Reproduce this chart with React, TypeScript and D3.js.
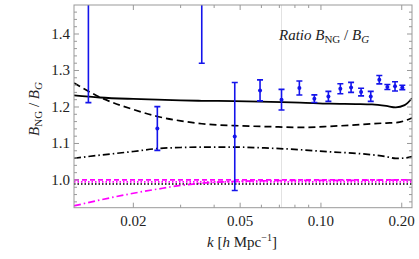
import * as React from "react";
import * as d3 from "d3";

// measured points (k, ratio, error)
const kObs = [0.0136, 0.02457, 0.03597, 0.04774, 0.0593, 0.0713, 0.0831, 0.0945, 0.1066, 0.1181, 0.1295, 0.1411, 0.1533, 0.165, 0.1768, 0.1888, 0.201];
const ratioObs = [1.6, 1.141, 1.62, 1.119, 1.2455, 1.22, 1.252, 1.2227, 1.229, 1.25, 1.2537, 1.241, 1.229, 1.2748, 1.2548, 1.2565, 1.2537];
const errObs = [0.388, 0.06, 0.3, 0.148, 0.0288, 0.0284, 0.0192, 0.0105, 0.0137, 0.0137, 0.0137, 0.0105, 0.0137, 0.0114, 0.0068, 0.0128, 0.006];

// model curves
const kCurve = [0.01202, 0.015, 0.02, 0.0246, 0.03, 0.036, 0.0475, 0.065, 0.0835, 0.108, 0.135, 0.155, 0.175, 0.19, 0.205, 0.2184];
const solidVals = [1.232, 1.226, 1.222, 1.22, 1.218, 1.217, 1.216, 1.214, 1.212, 1.209, 1.208, 1.207, 1.203, 1.199, 1.205, 1.224];
const dashedVals = [1.266, 1.227, 1.193, 1.174, 1.162, 1.154, 1.149, 1.146, 1.144, 1.147, 1.151, 1.154, 1.156, 1.157, 1.162, 1.17];
const dashDotVals = [1.0595, 1.068, 1.078, 1.086, 1.089, 1.09, 1.09, 1.087, 1.083, 1.077, 1.073, 1.069, 1.064, 1.059, 1.06, 1.064];
const dottedVals = [0.989, 0.989, 0.989, 0.989, 0.989, 0.989, 0.989, 0.989, 0.989, 0.989, 0.989, 0.989, 0.989, 0.989, 0.989, 0.989];
const magDashVals = [1.0, 1.0, 1.0, 1.0, 1.0, 1.0, 1.0, 1.0, 1.0, 1.0, 1.0, 1.0, 1.0, 1.0, 1.0, 1.0];
const magDotVals = [0.995, 0.995, 0.995, 0.995, 0.995, 0.995, 0.995, 0.995, 0.995, 0.995, 0.995, 0.995, 0.995, 0.995, 0.995, 0.995];
const magDashDotVals = [0.929, 0.945, 0.9636, 0.975, 0.985, 0.991, 0.996, 0.998, 0.999, 0.999, 0.999, 0.9995, 0.9995, 1.0, 1.0, 1.0];

const xMajor = [0.02, 0.05, 0.1, 0.2];
const xMajorLabels = ["0.02", "0.05", "0.10", "0.20"];
const xMinor = [0.03, 0.04, 0.06, 0.07, 0.08, 0.09];
const yMajor = [1.0, 1.1, 1.2, 1.3, 1.4];
const yMajorLabels = ["1.0", "1.1", "1.2", "1.3", "1.4"];
const yMinor = [0.94, 0.96, 0.98, 1.02, 1.04, 1.06, 1.08, 1.12, 1.14, 1.16, 1.18, 1.22, 1.24, 1.26, 1.28, 1.32, 1.34, 1.36, 1.38, 1.42, 1.44, 1.46];

const W = 419;
const H = 259;
const L = 74, R = 412, T = 5, B = 207.7;
const font = "'Liberation Serif', 'Times New Roman', serif";
const blue = "rgb(20,20,235)";
const frameCol = "#999";
const textCol = "#222";

export default function App() {
  const x = d3.scaleLog().domain([0.01202, 0.2184]).range([L, R]);
  const y = d3.scaleLinear().domain([0.924, 1.4795]).range([B, T]);

  const line = d3
    .line<number>()
    .x((_, i) => x(kCurve[i]))
    .y((d) => y(d))
    .curve(d3.curveMonotoneX);

  const curves = [
    { vals: solidVals, color: "#000", dash: "none", w: 1.8 },
    { vals: dashedVals, color: "#000", dash: "7,4", w: 1.7 },
    { vals: dashDotVals, color: "#000", dash: "7,3,1.5,3", w: 1.7 },
    { vals: dottedVals, color: "#000", dash: "1.5,2", w: 1.6 },
    { vals: magDotVals, color: "#ff00ff", dash: "1.5,2", w: 1.7 },
    { vals: magDashVals, color: "#ff00ff", dash: "5,3", w: 1.7 },
    { vals: magDashDotVals, color: "#ff00ff", dash: "7,3,1.5,3", w: 1.7 },
  ];

  return (
    <svg width={W} height={H} style={{ position: "absolute", left: 0, top: 0, background: "#fff" }}>
      <defs>
        <clipPath id="plotClip">
          <rect x={L} y={T} width={R - L} height={B - T} />
        </clipPath>
      </defs>

      {/* faint vertical grid line */}
      <line x1={x(0.0713)} x2={x(0.0713)} y1={T} y2={B} stroke="#e2e2e2" strokeWidth={1} />

      <g clipPath="url(#plotClip)">
        {curves.map((c, i) => (
          <path key={"c" + i} d={line(c.vals) || ""} fill="none" stroke={c.color} strokeWidth={c.w} strokeDasharray={c.dash} />
        ))}
        {kObs.map((k, i) => {
          const cx = x(k);
          const y0 = y(ratioObs[i] - errObs[i]);
          const y1 = y(ratioObs[i] + errObs[i]);
          return (
            <g key={"p" + i} stroke={blue} strokeWidth={1.6}>
              <line x1={cx} x2={cx} y1={y0} y2={y1} />
              <line x1={cx - 3} x2={cx + 3} y1={y0} y2={y0} />
              <line x1={cx - 3} x2={cx + 3} y1={y1} y2={y1} />
              <circle cx={cx} cy={y(ratioObs[i])} r={2} fill={blue} stroke="none" />
            </g>
          );
        })}
      </g>

      {/* frame */}
      <rect x={L} y={T} width={R - L} height={B - T} fill="none" stroke={frameCol} strokeWidth={1} />

      {/* x ticks, bottom and top */}
      {xMajor.map((k, i) => (
        <g key={"xm" + i}>
          <line x1={x(k)} x2={x(k)} y1={B} y2={B - 5} stroke={frameCol} />
          <line x1={x(k)} x2={x(k)} y1={T} y2={T + 5} stroke={frameCol} />
          <text x={x(k)} y={225.5} textAnchor="middle" fontFamily={font} fontSize={15} fill={textCol}>
            {xMajorLabels[i]}
          </text>
        </g>
      ))}
      {xMinor.map((k, i) => (
        <g key={"xn" + i}>
          <line x1={x(k)} x2={x(k)} y1={B} y2={B - 3} stroke={frameCol} />
          <line x1={x(k)} x2={x(k)} y1={T} y2={T + 3} stroke={frameCol} />
        </g>
      ))}

      {/* y ticks, left and right */}
      {yMajor.map((v, i) => (
        <g key={"ym" + i}>
          <line x1={L} x2={L + 5} y1={y(v)} y2={y(v)} stroke={frameCol} />
          <line x1={R} x2={R - 5} y1={y(v)} y2={y(v)} stroke={frameCol} />
          <text x={70} y={y(v) + 5} textAnchor="end" fontFamily={font} fontSize={15} fill={textCol}>
            {yMajorLabels[i]}
          </text>
        </g>
      ))}
      {yMinor.map((v, i) => (
        <g key={"yn" + i}>
          <line x1={L} x2={L + 3} y1={y(v)} y2={y(v)} stroke={frameCol} />
          <line x1={R} x2={R - 3} y1={y(v)} y2={y(v)} stroke={frameCol} />
        </g>
      ))}

      {/* in-plot title */}
      <text x={279} y={39.5} fontFamily={font} fontSize={15} fill={textCol}>
        <tspan fontStyle="italic">Ratio B</tspan>
        <tspan fontSize={11} dy={3}>NG</tspan>
        <tspan dy={-3}> / </tspan>
        <tspan fontStyle="italic">B</tspan>
        <tspan fontStyle="italic" fontSize={11} dy={3}>G</tspan>
      </text>

      {/* axis labels */}
      <text x={242} y={247} textAnchor="middle" fontFamily={font} fontSize={15} fill={textCol}>
        <tspan fontStyle="italic">k</tspan>
        <tspan> [</tspan>
        <tspan fontStyle="italic">h</tspan>
        <tspan> Mpc</tspan>
        <tspan fontSize={10} dy={-6}>−1</tspan>
        <tspan dy={6}>]</tspan>
      </text>
      <text transform="translate(39,109) rotate(-90)" textAnchor="middle" fontFamily={font} fontSize={15} fill={textCol}>
        <tspan fontStyle="italic">B</tspan>
        <tspan fontSize={11} dy={3}>NG</tspan>
        <tspan dy={-3}> / </tspan>
        <tspan fontStyle="italic">B</tspan>
        <tspan fontStyle="italic" fontSize={11} dy={3}>G</tspan>
      </text>
    </svg>
  );
}
